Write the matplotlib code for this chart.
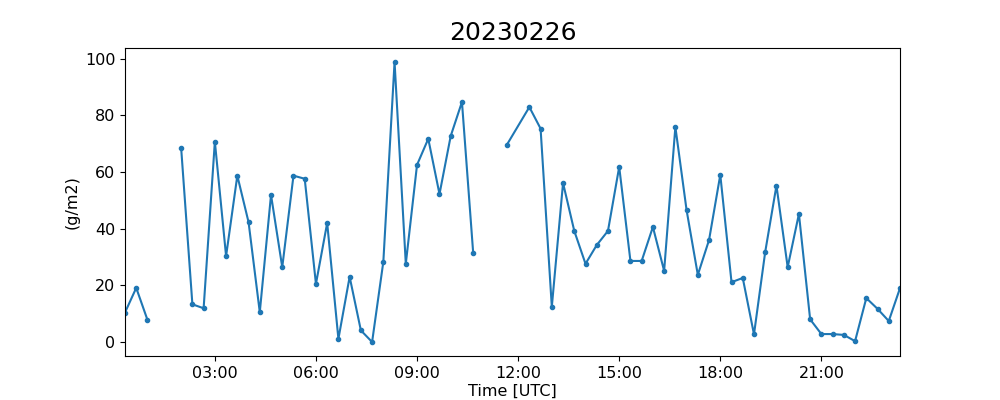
import numpy as np
import pandas as pd
import matplotlib
matplotlib.use("Agg")
import matplotlib.pyplot as plt
import matplotlib.dates as mdates

date = "2023-02-26"
times = [
    "00:20", "00:40", "01:00", "01:20", "01:40", "02:00", "02:20", "02:40",
    "03:00", "03:20", "03:40", "04:00", "04:20", "04:40", "05:00", "05:20",
    "05:40", "06:00", "06:20", "06:40", "07:00", "07:20", "07:40", "08:00",
    "08:20", "08:40", "09:00", "09:20", "09:40", "10:00", "10:20", "10:40",
    "11:00", "11:20", "11:40", "12:20", "12:40", "13:00", "13:20", "13:40",
    "14:00", "14:20", "14:40", "15:00", "15:20", "15:40", "16:00", "16:20",
    "16:40", "17:00", "17:20", "17:40", "18:00", "18:20", "18:40", "19:00",
    "19:20", "19:40", "20:00", "20:20", "20:40", "21:00", "21:20", "21:40",
    "22:00", "22:20", "22:40", "23:00", "23:20",
]
values = [
    10.4, 19.1, 7.8, np.nan, np.nan, 68.4, 13.3, 11.9,
    70.7, 30.3, 58.7, 42.3, 10.5, 51.9, 26.4, 58.7,
    57.6, 20.5, 42.0, 1.1, 23.0, 4.1, 0.0, 28.3,
    98.8, 27.6, 62.5, 71.7, 52.2, 72.7, 84.7, 31.4,
    np.nan, np.nan, 69.6, 82.9, 75.3, 12.4, 56.1, 39.2,
    27.6, 34.2, 39.2, 61.8, 28.6, 28.6, 40.6, 25.1,
    75.9, 46.5, 23.7, 36.0, 59.0, 21.1, 22.6, 2.7,
    31.8, 55.2, 26.4, 45.2, 8.0, 2.8, 2.8, 2.5,
    0.3, 15.5, 11.7, 7.4, 19.0,
]
title = "20230226"

t = pd.to_datetime([f"{date} {s}" for s in times])

fig, ax = plt.subplots(figsize=(10, 4), dpi=100)
ax.plot(t, values, ".-", color="#1f77b4")
ax.set_xlim(t[0], t[-1])
ax.xaxis.set_major_locator(mdates.HourLocator(byhour=range(3, 24, 3)))
ax.xaxis.set_major_formatter(mdates.DateFormatter("%H:%M"))
ax.set_title(title, fontsize=18)
ax.set_xlabel("Time [UTC]", fontsize=11.5, labelpad=2)
ax.set_ylabel("(g/m2)", fontsize=11.5)
ax.tick_params(labelsize=11.5)
fig.savefig("out.png", dpi=100)
